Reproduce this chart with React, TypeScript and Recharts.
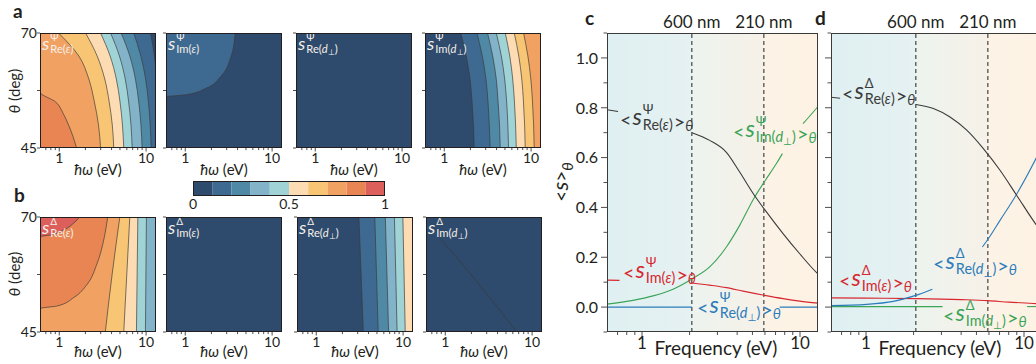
import React from "react";
import {
  ComposedChart,
  LineChart,
  BarChart,
  Area,
  Line,
  Bar,
  XAxis,
  YAxis,
  ReferenceLine,
  ReferenceArea,
} from "recharts";

const FONT = "Lato, 'Open Sans', 'DejaVu Sans', sans-serif";
const INK = "#231f20";
const EDGE = "#3a3a3a";

// ten-step colour scale, 0 → 1
const LEVELS = [
  "#2e4a6c", "#3e6991", "#4f89a5", "#82b3c9", "#9fd3d5",
  "#fddcb3", "#f8c574", "#f1a262", "#e88552", "#dc5f5b",
];

const EV_DOMAIN: [number, number] = [0.6, 13];
const EV_TICKS = [0.7, 0.8, 0.9, 1, 2, 3, 4, 5, 6, 7, 8, 9, 10];
const EV_LABELLED = [1, 10];
const THETA_DOMAIN: [number, number] = [45, 70];
const THETA_TICKS = [45, 57.5, 70];
const THETA_LABELLED = [45, 70];
const S_DOMAIN: [number, number] = [-0.1, 1.1];
const S_TICKS = [-0.1, 0, 0.1, 0.2, 0.3, 0.4, 0.5, 0.6, 0.7, 0.8, 0.9, 1.0, 1.1];
const S_LABELLED = [0, 0.2, 0.4, 0.6, 0.8, 1.0];
const CB_TICKS = [0, 0.5, 1];
const CB_STEPS = [0.1, 0.1, 0.1, 0.1, 0.1, 0.1, 0.1, 0.1, 0.1, 0.1];
const NM600 = 2.066;
const NM210 = 5.904;

// contour edges, [theta (deg), photon energy (eV)]
const FULL = [[45, 13], [70, 13]];

const aReEps1 = [[45, 13], [61, 13], [65, 12.47], [70, 11.22]];
const aReEps2 = [[45, 11.43], [50, 11.15], [55, 10.64], [60, 9.87], [65, 8.7], [70, 7.21]];
const aReEps3 = [[45, 8.99], [50, 8.72], [55, 8.23], [60, 7.53], [65, 6.49], [70, 5.16]];
const aReEps4 = [[45, 6.91], [50, 6.7], [55, 6.3], [60, 5.75], [65, 4.93], [70, 3.9]];
const aReEps5 = [[45, 5.53], [50, 5.34], [55, 5.01], [60, 4.54], [65, 3.85], [70, 2.99]];
const aReEps6 = [[45, 4.24], [50, 4.08], [55, 3.76], [60, 3.34], [65, 2.73], [70, 2.01]];
const aReEps7 = [[45, 2.99], [50, 2.83], [55, 2.54], [60, 2.19], [65, 1.68], [70, 0.98]];
const aReEps8 = [[45, 1.58], [47.5, 1.44], [50, 1.28], [52.5, 1.11], [55, 0.91], [57.2, 0.6], [70, 0.6]];

const aImEps1 = [[45, 0.6], [56.1, 0.6], [56.6, 1.03], [58, 1.74], [60.6, 2.58], [64.9, 3.37], [70, 3.76]];

const aImDp6 = [[45, 10.86], [50, 10.69], [55, 10.38], [60, 9.93], [65, 9.18], [70, 8.19]];
const aImDp5 = [[45, 8.56], [50, 8.42], [55, 8.17], [60, 7.81], [65, 7.21], [70, 6.4]];
const aImDp4 = [[45, 6.75], [50, 6.63], [55, 6.43], [60, 6.14], [65, 5.68], [70, 5.04]];
const aImDp3 = [[45, 5.5], [50, 5.4], [55, 5.23], [60, 4.96], [65, 4.54], [70, 3.97]];
const aImDp2 = [[45, 4.41], [50, 4.33], [55, 4.17], [60, 3.97], [65, 3.61], [70, 3.15]];
const aImDp1 = [[45, 3.38], [50, 3.3], [55, 3.19], [60, 3.02], [65, 2.74], [70, 2.38]];
const aImDp0 = [[45, 2.21], [50, 2.17], [55, 2.09], [60, 1.98], [65, 1.79], [70, 1.55]];

const bReEps4 = [[45, 9.82], [70, 10.09]];
const bReEps5 = [[45, 7.74], [70, 8.03]];
const bReEps6 = [[45, 5.53], [70, 6.49]];
const bReEps7 = [[45, 3.39], [57.5, 4.06], [70, 4.98]];
const bReEps8 = [[45, 0.6], [50.1, 0.6], [50.66, 0.95], [52.5, 1.47], [55.4, 2.1], [59.85, 2.72], [65.7, 3.31], [70, 3.61]];
const bReEps9 = [[45, 0.6], [65.7, 0.6], [66.1, 0.79], [67.2, 1.13], [68.7, 1.47], [70, 1.72]];

const bReDp4 = [[45, 10.58], [70, 9.94]];
const bReDp3 = [[45, 8.53], [70, 7.94]];
const bReDp2 = [[45, 6.81], [70, 6.24]];
const bReDp1 = [[45, 5.17], [70, 4.72]];
const bReDp0 = [[45, 3.48], [70, 3.1]];

const bImDpLine = [[45, 6.64], [50, 4.14], [55, 2.54], [60, 1.53], [65.1, 0.89]];

// theta-averaged indices, [eV, value]
const cReEpsHead = [[0.6, 0.792], [0.705, 0.785]];
const cReEps = [[2.07, 0.7], [2.68, 0.669], [3.42, 0.621], [4.15, 0.542], [5.09, 0.453], [5.98, 0.391], [7.81, 0.295], [9.96, 0.214], [12.8, 0.137], [13, 0.133]];
const cImDp = [[0.6, 0.012], [0.877, 0.027], [1.174, 0.045], [1.571, 0.072], [2.07, 0.113], [2.68, 0.161], [3.42, 0.241], [4.15, 0.328], [5.09, 0.435], [5.98, 0.505], [7.09, 0.576], [7.74, 0.616]];
const cImDpTail = [[10.45, 0.736], [12.8, 0.8], [13, 0.805]];
const cImEpsHead = [[0.6, 0.108], [0.72, 0.107]];
const cImEps = [[2.07, 0.097], [2.68, 0.088], [3.42, 0.078], [4.36, 0.064], [5.98, 0.047], [7.81, 0.034], [9.96, 0.024], [13, 0.016]];
const cReDpHead = [[0.6, 0], [2.07, 0]];
const cReDpTail = [[7.44, 0], [13, 0]];

const dReEpsHead = [[0.6, 0.842], [0.685, 0.838]];
const dReEps = [[2.07, 0.813], [2.67, 0.797], [3.4, 0.763], [4.34, 0.71], [5.53, 0.636], [7.05, 0.549], [8.98, 0.449], [11.9, 0.332], [13, 0.3]];
const dReDpHead = [[0.6, 0.006], [1.01, 0.011], [1.49, 0.023], [2.04, 0.046], [2.63, 0.072]];
const dReDp = [[5.45, 0.241], [5.9, 0.271], [7.05, 0.348], [8.9, 0.449], [11.9, 0.596], [13, 0.645]];
const dImEps = [[0.6, 0.037], [1, 0.036], [2.07, 0.034], [4, 0.03], [5.9, 0.026], [8, 0.02], [11.9, 0.014], [13, 0.012]];
const dImDpHead = [[0.6, 0.002], [3.05, 0.002]];
const dImDpTail = [[10.45, 0.002], [13, 0.002]];

const BLACK = "#3b3b3b";
const GREEN = "#3ba457";
const RED = "#d7282f";
const BLUE = "#2c7cba";

type Band = { edge: number[][]; fill: number | null };

function toRows(bands: Band[]) {
  const thetas = Array.from(new Set(bands.flatMap((b) => b.edge.map((p) => p[0])))).sort((a, b) => a - b);
  return thetas.map((t) => {
    const row: any = { theta: t };
    bands.forEach((b, i) => {
      const p = b.edge.find((q) => q[0] === t);
      row[`e${i}`] = p ? p[1] : null;
    });
    return row;
  });
}

const pts = (arr: number[][]) => arr.map(([x, y]) => ({ x, y }));

function evTick(fontSize: number, len: number, gap: number) {
  return (p: any) => {
    const v = p.payload.value;
    const major = EV_LABELLED.includes(v);
    return (
      <g>
        <line x1={p.x} x2={p.x} y1={p.y} y2={p.y + (major ? len : len * 0.6)} stroke={INK} strokeWidth={0.8} />
        {major ? (
          <text x={p.x} y={p.y + gap} textAnchor="middle" fontSize={fontSize} fontFamily={FONT} fill={INK}>
            {v}
          </text>
        ) : null}
      </g>
    );
  };
}

function thetaTick(show: boolean) {
  return (p: any) => {
    const v = p.payload.value;
    return (
      <g>
        <line x1={p.x} x2={p.x - 3} y1={p.y} y2={p.y} stroke={INK} strokeWidth={0.8} />
        {show && THETA_LABELLED.includes(v) ? (
          <text x={p.x - 3} y={p.y} dy="0.36em" textAnchor="end" fontSize={14} fontFamily={FONT} fill={INK}>
            {v}
          </text>
        ) : null}
      </g>
    );
  };
}

function sTick(show: boolean) {
  return (p: any) => {
    const v = p.payload.value;
    const major = S_LABELLED.some((m) => Math.abs(m - v) < 1e-9);
    return (
      <g>
        <line x1={p.x} x2={p.x - (major ? 6 : 3.5)} y1={p.y} y2={p.y} stroke={INK} strokeWidth={0.8} />
        {show && major ? (
          <text x={p.x - 9} y={p.y} dy="0.36em" textAnchor="end" fontSize={16} fontFamily={FONT} fill={INK}>
            {v.toFixed(1)}
          </text>
        ) : null}
      </g>
    );
  };
}

function cbTick(p: any) {
  return (
    <text x={p.x} y={p.y + 13} textAnchor="middle" fontSize={14} fontFamily={FONT} fill={INK}>
      {p.payload.value}
    </text>
  );
}

const Perp = () => <span style={{ fontSize: "0.72em", verticalAlign: "-0.3em" }}>⊥</span>;

const ReEps = () => (
  <>
    Re(<i>ε</i>)
  </>
);
const ImEps = () => (
  <>
    Im(<i>ε</i>)
  </>
);
const ReDp = () => (
  <>
    Re(<i>d</i>
    <Perp />)
  </>
);
const ImDp = () => (
  <>
    Im(<i>d</i>
    <Perp />)
  </>
);

function SIndex({ x, y, size, color, sup, sub, bracket }: any) {
  return (
    <div
      style={{
        position: "absolute",
        left: x,
        top: y,
        color,
        fontFamily: FONT,
        lineHeight: 1,
        whiteSpace: "nowrap",
        display: "flex",
        alignItems: "flex-start",
        pointerEvents: "none",
      }}
    >
      {bracket && <span style={{ fontSize: size * 1.1, marginTop: size * 0.36 }}>&lt;</span>}
      <span style={{ fontSize: size * 1.3, fontStyle: "italic", marginTop: size * 0.05, marginLeft: bracket ? 1 : 0, marginRight: 1 }}>s</span>
      <span style={{ display: "flex", flexDirection: "column" }}>
        <span style={{ fontSize: size * 0.72, lineHeight: 0.9 }}>{sup}</span>
        <span style={{ fontSize: size * 0.8, lineHeight: 1.05, marginTop: 1 }}>{sub}</span>
      </span>
      {bracket && <span style={{ fontSize: size * 1.1, marginTop: size * 0.42, marginLeft: 1 }}>&gt;</span>}
      {bracket && <span style={{ fontSize: size * 0.8, fontStyle: "italic", marginTop: size * 0.85 }}>θ</span>}
    </div>
  );
}

const PW = 116;
const PH = 115;
const XH = 34;
const TOP_PAD = 8;

function Contour({ x, y, yAxis, bands, sup, sub }: { x: number; y: number; yAxis: boolean; bands: Band[]; sup: string; sub: React.ReactNode }) {
  const yw = yAxis ? 40 : 6;
  const rows = toRows(bands);
  return (
    <div style={{ position: "absolute", left: x - yw, top: y - TOP_PAD }}>
      <ComposedChart
        layout="vertical"
        width={yw + PW}
        height={TOP_PAD + PH + XH}
        data={rows}
        margin={{ top: TOP_PAD, right: 0, bottom: 0, left: 0 }}
      >
        {bands.map((b, i) => (
          <Area
            key={i}
            dataKey={`e${i}`}
            type="monotone"
            baseValue={EV_DOMAIN[0]}
            connectNulls
            fill={b.fill == null ? "none" : LEVELS[b.fill]}
            fillOpacity={1}
            stroke={i === 0 ? "none" : EDGE}
            strokeWidth={0.8}
            strokeOpacity={0.85}
            dot={false}
            activeDot={false}
            isAnimationActive={false}
          />
        ))}
        <XAxis
          type="number"
          scale="log"
          domain={EV_DOMAIN}
          allowDataOverflow
          ticks={EV_TICKS}
          interval={0}
          height={XH}
          tickSize={0}
          tickMargin={0}
          tickLine={false}
          axisLine={false}
          tick={evTick(14, 3.5, 14.5)}
        />
        <YAxis
          type="number"
          dataKey="theta"
          domain={THETA_DOMAIN}
          reversed
          allowDataOverflow
          ticks={THETA_TICKS}
          interval={0}
          width={yw}
          tickSize={0}
          tickMargin={0}
          tickLine={false}
          axisLine={false}
          tick={thetaTick(yAxis)}
        />
      </ComposedChart>
      <div
        style={{
          position: "absolute",
          left: yw,
          top: TOP_PAD,
          width: PW,
          height: PH,
          border: `1px solid ${INK}`,
          boxSizing: "border-box",
          pointerEvents: "none",
        }}
      />
      <SIndex x={yw + 2} y={TOP_PAD} size={14} color="#f6f0ea" sup={sup} sub={sub} bracket={false} />
    </div>
  );
}

const panelsA: { bands: Band[]; sup: string; sub: React.ReactNode }[] = [
  {
    sup: "Ψ",
    sub: <ReEps />,
    bands: [
      { edge: FULL, fill: 0 },
      { edge: aReEps1, fill: 1 },
      { edge: aReEps2, fill: 2 },
      { edge: aReEps3, fill: 3 },
      { edge: aReEps4, fill: 4 },
      { edge: aReEps5, fill: 5 },
      { edge: aReEps6, fill: 6 },
      { edge: aReEps7, fill: 7 },
      { edge: aReEps8, fill: 8 },
    ],
  },
  { sup: "Ψ", sub: <ImEps />, bands: [{ edge: FULL, fill: 0 }, { edge: aImEps1, fill: 1 }] },
  { sup: "Ψ", sub: <ReDp />, bands: [{ edge: FULL, fill: 0 }] },
  {
    sup: "Ψ",
    sub: <ImDp />,
    bands: [
      { edge: FULL, fill: 7 },
      { edge: aImDp6, fill: 6 },
      { edge: aImDp5, fill: 5 },
      { edge: aImDp4, fill: 4 },
      { edge: aImDp3, fill: 3 },
      { edge: aImDp2, fill: 2 },
      { edge: aImDp1, fill: 1 },
      { edge: aImDp0, fill: 0 },
    ],
  },
];

const panelsB: { bands: Band[]; sup: string; sub: React.ReactNode }[] = [
  {
    sup: "Δ",
    sub: <ReEps />,
    bands: [
      { edge: FULL, fill: 3 },
      { edge: bReEps4, fill: 4 },
      { edge: bReEps5, fill: 5 },
      { edge: bReEps6, fill: 6 },
      { edge: bReEps7, fill: 7 },
      { edge: bReEps8, fill: 8 },
      { edge: bReEps9, fill: 9 },
    ],
  },
  { sup: "Δ", sub: <ImEps />, bands: [{ edge: FULL, fill: 0 }] },
  {
    sup: "Δ",
    sub: <ReDp />,
    bands: [
      { edge: FULL, fill: 5 },
      { edge: bReDp4, fill: 4 },
      { edge: bReDp3, fill: 3 },
      { edge: bReDp2, fill: 2 },
      { edge: bReDp1, fill: 1 },
      { edge: bReDp0, fill: 0 },
    ],
  },
  { sup: "Δ", sub: <ImDp />, bands: [{ edge: FULL, fill: 0 }, { edge: bImDpLine, fill: null }] },
];

const COLS_A = [40, 166, 296, 425];
const COLS_B = [40, 166, 297, 426];

function Gradients({ id }: { id: string }) {
  return (
    <defs>
      <linearGradient id={`${id}-1`} x1="0" x2="1" y1="0" y2="0">
        <stop offset="0" stopColor="#dff0f2" />
        <stop offset="1" stopColor="#e6f1f1" />
      </linearGradient>
      <linearGradient id={`${id}-2`} x1="0" x2="1" y1="0" y2="0">
        <stop offset="0" stopColor="#edf3ee" />
        <stop offset="1" stopColor="#f6f1e8" />
      </linearGradient>
      <linearGradient id={`${id}-3`} x1="0" x2="1" y1="0" y2="0">
        <stop offset="0" stopColor="#fcf3e6" />
        <stop offset="1" stopColor="#fdf2e4" />
      </linearGradient>
    </defs>
  );
}

function SeriesPanel({ left, yw, id, showLabels, children }: any) {
  const W = 211;
  const H = 299;
  return (
    <div style={{ position: "absolute", left, top: 0 }}>
      <LineChart width={yw + W + 2} height={364} margin={{ top: 33, right: 2, bottom: 0, left: 0 }}>
        <Gradients id={id} />
        <ReferenceArea x1={EV_DOMAIN[0]} x2={NM600} y1={S_DOMAIN[0]} y2={S_DOMAIN[1]} fill={`url(#${id}-1)`} fillOpacity={1} stroke="none" />
        <ReferenceArea x1={NM600} x2={NM210} y1={S_DOMAIN[0]} y2={S_DOMAIN[1]} fill={`url(#${id}-2)`} fillOpacity={1} stroke="none" />
        <ReferenceArea x1={NM210} x2={EV_DOMAIN[1]} y1={S_DOMAIN[0]} y2={S_DOMAIN[1]} fill={`url(#${id}-3)`} fillOpacity={1} stroke="none" />
        <ReferenceLine
          x={NM600}
          stroke="#444"
          strokeDasharray="4 3"
          strokeWidth={1.2}
          label={{ value: "600 nm", position: "top", fill: INK, fontSize: 17, fontFamily: FONT, offset: 5 }}
        />
        <ReferenceLine
          x={NM210}
          stroke="#444"
          strokeDasharray="4 3"
          strokeWidth={1.2}
          label={{ value: "210 nm", position: "top", fill: INK, fontSize: 17, fontFamily: FONT, offset: 5 }}
        />
        {children}
        <XAxis
          dataKey="x"
          type="number"
          scale="log"
          domain={EV_DOMAIN}
          allowDataOverflow
          ticks={EV_TICKS}
          interval={0}
          height={32}
          tickSize={0}
          tickMargin={0}
          tickLine={false}
          axisLine={false}
          tick={evTick(17, 5, 17)}
        />
        <YAxis
          type="number"
          domain={S_DOMAIN}
          allowDataOverflow
          ticks={S_TICKS}
          interval={0}
          width={yw}
          tickSize={0}
          tickMargin={0}
          tickLine={false}
          axisLine={false}
          tick={sTick(showLabels)}
        />
      </LineChart>
      <div
        style={{
          position: "absolute",
          left: yw,
          top: 33,
          width: W,
          height: H,
          border: "1px solid #3a3a3a",
          boxSizing: "border-box",
          pointerEvents: "none",
        }}
      />
    </div>
  );
}

function seg(data: number[][], color: string, key: string) {
  return (
    <Line
      key={key}
      data={pts(data)}
      dataKey="y"
      type="monotone"
      stroke={color}
      strokeWidth={1.1}
      dot={false}
      activeDot={false}
      isAnimationActive={false}
    />
  );
}

export default function App() {
  const cbRow = [Object.fromEntries([["name", "s"], ...CB_STEPS.map((v, i) => [`l${i}`, v])])];
  return (
    <div
      style={{
        position: "absolute",
        left: 0,
        top: 0,
        width: 1036,
        height: 364,
        overflow: "hidden",
        background: "#fff",
        fontFamily: FONT,
      }}
    >
      {panelsA.map((p, i) => (
        <Contour key={`a${i}`} x={COLS_A[i]} y={33} yAxis={i === 0} bands={p.bands} sup={p.sup} sub={p.sub} />
      ))}
      {panelsB.map((p, i) => (
        <Contour key={`b${i}`} x={COLS_B[i]} y={217} yAxis={i === 0} bands={p.bands} sup={p.sup} sub={p.sub} />
      ))}

      <div style={{ position: "absolute", left: 183, top: 181 }}>
        <BarChart layout="vertical" width={212} height={15 + 20} data={cbRow} margin={{ top: 0, right: 10, bottom: 0, left: 10 }} barCategoryGap={0}>
          <XAxis type="number" domain={[0, 1]} ticks={CB_TICKS} interval={0} height={20} tickSize={0} tickMargin={0} tickLine={false} axisLine={false} tick={cbTick} />
          <YAxis type="category" dataKey="name" hide />
          {CB_STEPS.map((_, i) => (
            <Bar key={i} dataKey={`l${i}`} stackId="cb" fill={LEVELS[i]} isAnimationActive={false} />
          ))}
        </BarChart>
        <div style={{ position: "absolute", left: 10, top: 0, width: 192, height: 15, border: `1px solid ${INK}`, boxSizing: "border-box" }} />
      </div>

      <SeriesPanel left={557} yw={50} id="gc" showLabels>
        {seg(cReDpHead, BLUE, "c1")}
        {seg(cReDpTail, BLUE, "c2")}
        {seg(cImDp, GREEN, "c3")}
        {seg(cImDpTail, GREEN, "c4")}
        {seg(cImEpsHead, RED, "c5")}
        {seg(cImEps, RED, "c6")}
        {seg(cReEpsHead, BLACK, "c7")}
        {seg(cReEps, BLACK, "c8")}
      </SeriesPanel>

      <SeriesPanel left={821} yw={10} id="gd" showLabels={false}>
        {seg(dImDpHead, GREEN, "d1")}
        {seg(dImDpTail, GREEN, "d2")}
        {seg(dImEps, RED, "d3")}
        {seg(dReDpHead, BLUE, "d4")}
        {seg(dReDp, BLUE, "d5")}
        {seg(dReEpsHead, BLACK, "d6")}
        {seg(dReEps, BLACK, "d7")}
      </SeriesPanel>

      <SIndex x={620} y={104} size={18} color={BLACK} sup="Ψ" sub={<ReEps />} bracket />
      <SIndex x={733} y={116} size={18} color={GREEN} sup="Ψ" sub={<ImDp />} bracket />
      <SIndex x={623} y={257} size={18} color={RED} sup="Ψ" sub={<ImEps />} bracket />
      <SIndex x={697} y={292} size={18} color={BLUE} sup="Ψ" sub={<ReDp />} bracket />

      <SIndex x={842} y={78} size={18} color={BLACK} sup="Δ" sub={<ReEps />} bracket />
      <SIndex x={933} y={248} size={18} color={BLUE} sup="Δ" sub={<ReDp />} bracket />
      <SIndex x={839} y={265} size={18} color={RED} sup="Δ" sub={<ImEps />} bracket />
      <SIndex x={943} y={300} size={18} color={GREEN} sup="Δ" sub={<ImDp />} bracket />

      <svg width={1036} height={364} style={{ position: "absolute", left: 0, top: 0, pointerEvents: "none" }} fontFamily={FONT} fill={INK}>
        <text x={13} y={18} fontSize={19} fontWeight={700}>a</text>
        <text x={14} y={202} fontSize={19} fontWeight={700}>b</text>
        <text x={585} y={25} fontSize={19} fontWeight={700}>c</text>
        <text x={815} y={25} fontSize={19} fontWeight={700}>d</text>

        <text transform="rotate(-90 20 91)" x={20} y={91} fontSize={15} textAnchor="middle">
          <tspan fontStyle="italic">θ</tspan> (deg)
        </text>
        <text transform="rotate(-90 20 274)" x={20} y={274} fontSize={15} textAnchor="middle">
          <tspan fontStyle="italic">θ</tspan> (deg)
        </text>

        {COLS_A.map((cx, i) => (
          <text key={`ta${i}`} x={cx + PW / 2} y={175} fontSize={15} textAnchor="middle">
            <tspan fontStyle="italic">ħω</tspan> (eV)
          </text>
        ))}
        {COLS_B.map((cx, i) => (
          <text key={`tb${i}`} x={cx + PW / 2} y={357} fontSize={15} textAnchor="middle">
            <tspan fontStyle="italic">ħω</tspan> (eV)
          </text>
        ))}

        <text x={716} y={355} fontSize={19} textAnchor="middle">Frequency (eV)</text>
        <text x={940} y={355} fontSize={19} textAnchor="middle">Frequency (eV)</text>

        <text transform="rotate(-90 568 182)" x={568} y={182} fontSize={19} textAnchor="middle">
          &lt;<tspan fontStyle="italic" fontSize={22}>s</tspan>&gt;
          <tspan fontStyle="italic" fontSize={15} dy={5}>θ</tspan>
        </text>
      </svg>
    </div>
  );
}
